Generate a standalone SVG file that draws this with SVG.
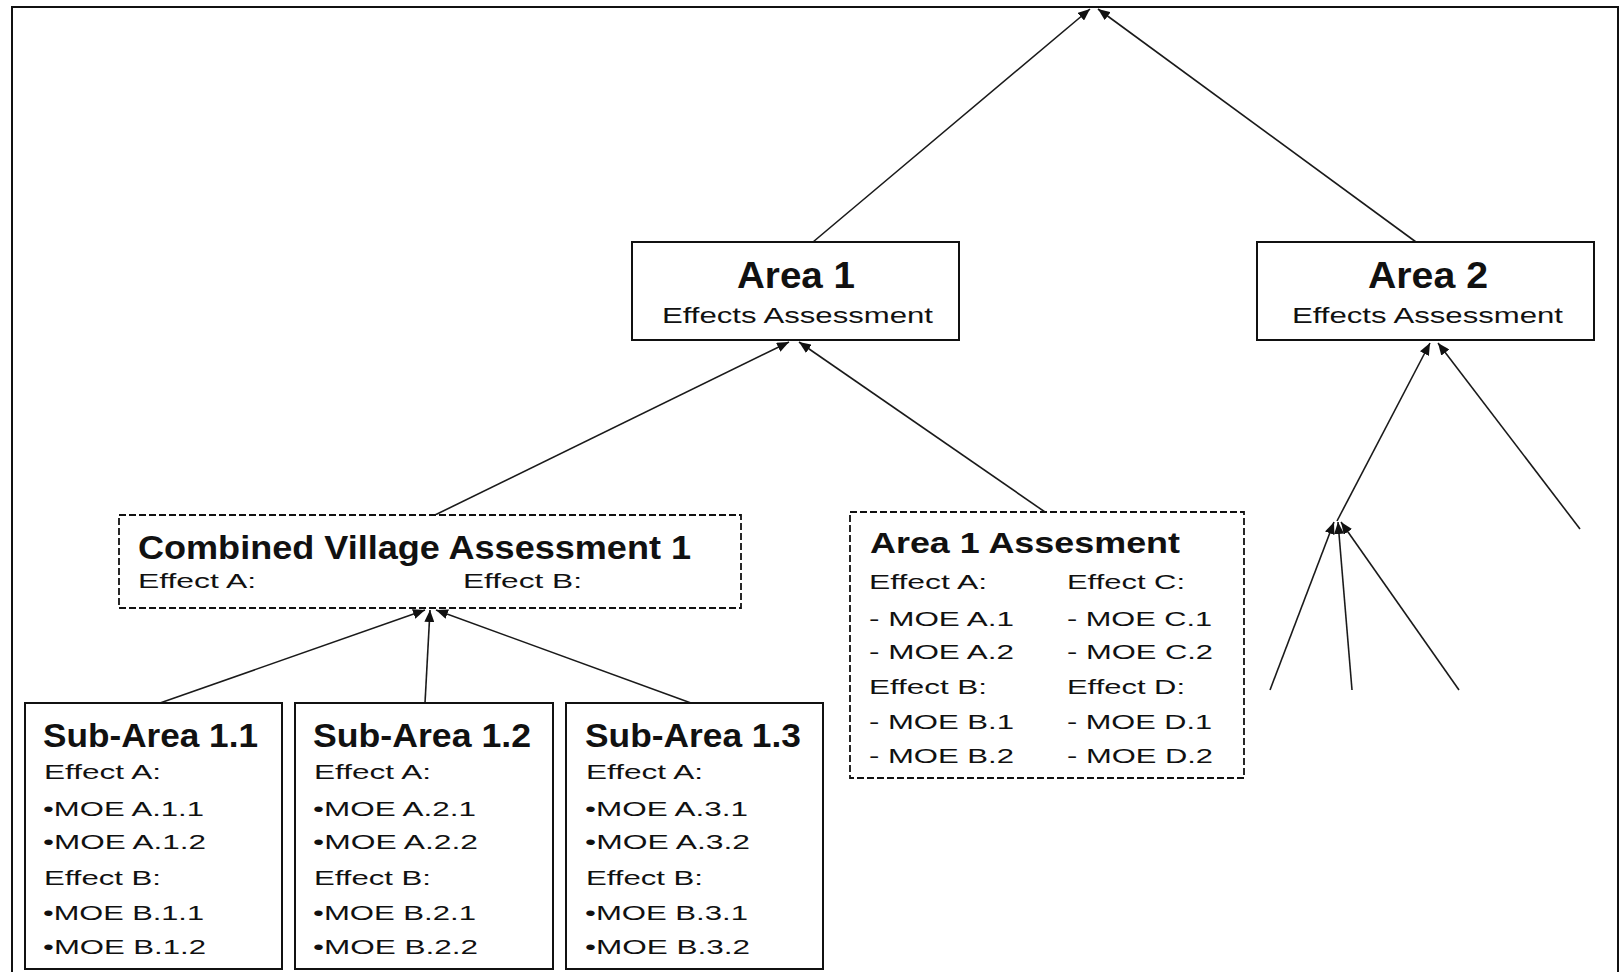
<svg xmlns="http://www.w3.org/2000/svg" width="1623" height="972" viewBox="0 0 1623 972">
<style>
.box{fill:#fff;stroke:#111;stroke-width:2}
.dbox{fill:#fff;stroke:#111;stroke-width:1.8;stroke-dasharray:7 3}
.t{font-family:"Liberation Sans",Arial,sans-serif;fill:#111}
.ttl{font-weight:bold}
.big{font-size:37px;font-weight:bold}
.sub{font-size:22px}
.h1{font-size:33px}
.h2{font-size:30px}
.b{font-size:21px}
.conn line{stroke:#1a1a1a;stroke-width:1.6;fill:none}
</style>
<defs>
<marker id="arr" markerUnits="userSpaceOnUse" viewBox="0 0 12 10" refX="12" refY="5" markerWidth="12" markerHeight="10" orient="auto">
<path d="M0,0 L12,5 L0,10 z" fill="#111"/>
</marker>
</defs>
<rect width="1623" height="972" fill="#fff"/>
<rect id="frame" x="12" y="7" width="1606" height="980" fill="none" stroke="#111" stroke-width="2"/>

<g id="connectors" class="conn">
<line x1="813" y1="242" x2="1090" y2="9" marker-end="url(#arr)"/>
<line x1="1416" y1="242" x2="1098" y2="9" marker-end="url(#arr)"/>
<line x1="435" y1="515" x2="789" y2="342" marker-end="url(#arr)"/>
<line x1="1045" y1="512" x2="799" y2="342" marker-end="url(#arr)"/>
<line x1="160" y1="703" x2="425" y2="610" marker-end="url(#arr)"/>
<line x1="425" y1="703" x2="430" y2="610" marker-end="url(#arr)"/>
<line x1="691" y1="703" x2="436" y2="610" marker-end="url(#arr)"/>
<line x1="1337" y1="521" x2="1430" y2="343" marker-end="url(#arr)"/>
<line x1="1580" y1="529" x2="1438" y2="343" marker-end="url(#arr)"/>
<line x1="1270" y1="690" x2="1334" y2="522" marker-end="url(#arr)"/>
<line x1="1352" y1="690" x2="1338" y2="522" marker-end="url(#arr)"/>
<line x1="1459" y1="690" x2="1341" y2="522" marker-end="url(#arr)"/>
</g>

<g id="area1">
<rect class="box" x="632" y="242" width="327" height="98"/>
<text class="t big" x="737" y="288" textLength="118" lengthAdjust="spacingAndGlyphs">Area 1</text>
<text class="t sub" x="662" y="323" textLength="271" lengthAdjust="spacingAndGlyphs">Effects Assessment</text>
</g>

<g id="area2">
<rect class="box" x="1257" y="242" width="337" height="98"/>
<text class="t big" x="1368" y="288" textLength="120" lengthAdjust="spacingAndGlyphs">Area 2</text>
<text class="t sub" x="1292" y="323" textLength="271" lengthAdjust="spacingAndGlyphs">Effects Assessment</text>
</g>

<g id="combined">
<rect class="dbox" x="119" y="515" width="622" height="93"/>
<text class="t ttl h1" x="138" y="559" textLength="553" lengthAdjust="spacingAndGlyphs">Combined Village Assessment 1</text>
<text class="t b" x="138" y="588" textLength="118" lengthAdjust="spacingAndGlyphs">Effect A:</text>
<text class="t b" x="463" y="588" textLength="119" lengthAdjust="spacingAndGlyphs">Effect B:</text>
</g>

<g id="area1assess">
<rect class="dbox" x="850" y="512" width="394" height="266"/>
<text class="t ttl h2" x="870" y="553" textLength="310" lengthAdjust="spacingAndGlyphs">Area 1 Assesment</text>
<text class="t b" x="869" y="589" textLength="118" lengthAdjust="spacingAndGlyphs">Effect A:</text>
<text class="t b" x="869" y="626" textLength="145" lengthAdjust="spacingAndGlyphs">- MOE A.1</text>
<text class="t b" x="869" y="659" textLength="145" lengthAdjust="spacingAndGlyphs">- MOE A.2</text>
<text class="t b" x="869" y="694" textLength="118" lengthAdjust="spacingAndGlyphs">Effect B:</text>
<text class="t b" x="869" y="729" textLength="145" lengthAdjust="spacingAndGlyphs">- MOE B.1</text>
<text class="t b" x="869" y="763" textLength="145" lengthAdjust="spacingAndGlyphs">- MOE B.2</text>
<text class="t b" x="1067" y="589" textLength="118" lengthAdjust="spacingAndGlyphs">Effect C:</text>
<text class="t b" x="1067" y="626" textLength="145" lengthAdjust="spacingAndGlyphs">- MOE C.1</text>
<text class="t b" x="1067" y="659" textLength="146" lengthAdjust="spacingAndGlyphs">- MOE C.2</text>
<text class="t b" x="1067" y="694" textLength="118" lengthAdjust="spacingAndGlyphs">Effect D:</text>
<text class="t b" x="1067" y="729" textLength="145" lengthAdjust="spacingAndGlyphs">- MOE D.1</text>
<text class="t b" x="1067" y="763" textLength="146" lengthAdjust="spacingAndGlyphs">- MOE D.2</text>
</g>

<g id="sub11">
<rect class="box" x="25" y="703" width="257" height="266"/>
<text class="t ttl h1" x="43" y="747" textLength="215" lengthAdjust="spacingAndGlyphs">Sub-Area 1.1</text>
<text class="t b" x="44" y="779" textLength="117" lengthAdjust="spacingAndGlyphs">Effect A:</text>
<text class="t b" x="43" y="816" textLength="161" lengthAdjust="spacingAndGlyphs">•MOE A.1.1</text>
<text class="t b" x="43" y="849" textLength="163" lengthAdjust="spacingAndGlyphs">•MOE A.1.2</text>
<text class="t b" x="44" y="885" textLength="117" lengthAdjust="spacingAndGlyphs">Effect B:</text>
<text class="t b" x="43" y="920" textLength="161" lengthAdjust="spacingAndGlyphs">•MOE B.1.1</text>
<text class="t b" x="43" y="954" textLength="163" lengthAdjust="spacingAndGlyphs">•MOE B.1.2</text>
</g>

<g id="sub12">
<rect class="box" x="295" y="703" width="258" height="266"/>
<text class="t ttl h1" x="313" y="747" textLength="218" lengthAdjust="spacingAndGlyphs">Sub-Area 1.2</text>
<text class="t b" x="314" y="779" textLength="117" lengthAdjust="spacingAndGlyphs">Effect A:</text>
<text class="t b" x="313" y="816" textLength="163" lengthAdjust="spacingAndGlyphs">•MOE A.2.1</text>
<text class="t b" x="313" y="849" textLength="165" lengthAdjust="spacingAndGlyphs">•MOE A.2.2</text>
<text class="t b" x="314" y="885" textLength="117" lengthAdjust="spacingAndGlyphs">Effect B:</text>
<text class="t b" x="313" y="920" textLength="163" lengthAdjust="spacingAndGlyphs">•MOE B.2.1</text>
<text class="t b" x="313" y="954" textLength="165" lengthAdjust="spacingAndGlyphs">•MOE B.2.2</text>
</g>

<g id="sub13">
<rect class="box" x="566" y="703" width="257" height="266"/>
<text class="t ttl h1" x="585" y="747" textLength="216" lengthAdjust="spacingAndGlyphs">Sub-Area 1.3</text>
<text class="t b" x="586" y="779" textLength="117" lengthAdjust="spacingAndGlyphs">Effect A:</text>
<text class="t b" x="585" y="816" textLength="163" lengthAdjust="spacingAndGlyphs">•MOE A.3.1</text>
<text class="t b" x="585" y="849" textLength="165" lengthAdjust="spacingAndGlyphs">•MOE A.3.2</text>
<text class="t b" x="586" y="885" textLength="117" lengthAdjust="spacingAndGlyphs">Effect B:</text>
<text class="t b" x="585" y="920" textLength="163" lengthAdjust="spacingAndGlyphs">•MOE B.3.1</text>
<text class="t b" x="585" y="954" textLength="165" lengthAdjust="spacingAndGlyphs">•MOE B.3.2</text>
</g>
</svg>
